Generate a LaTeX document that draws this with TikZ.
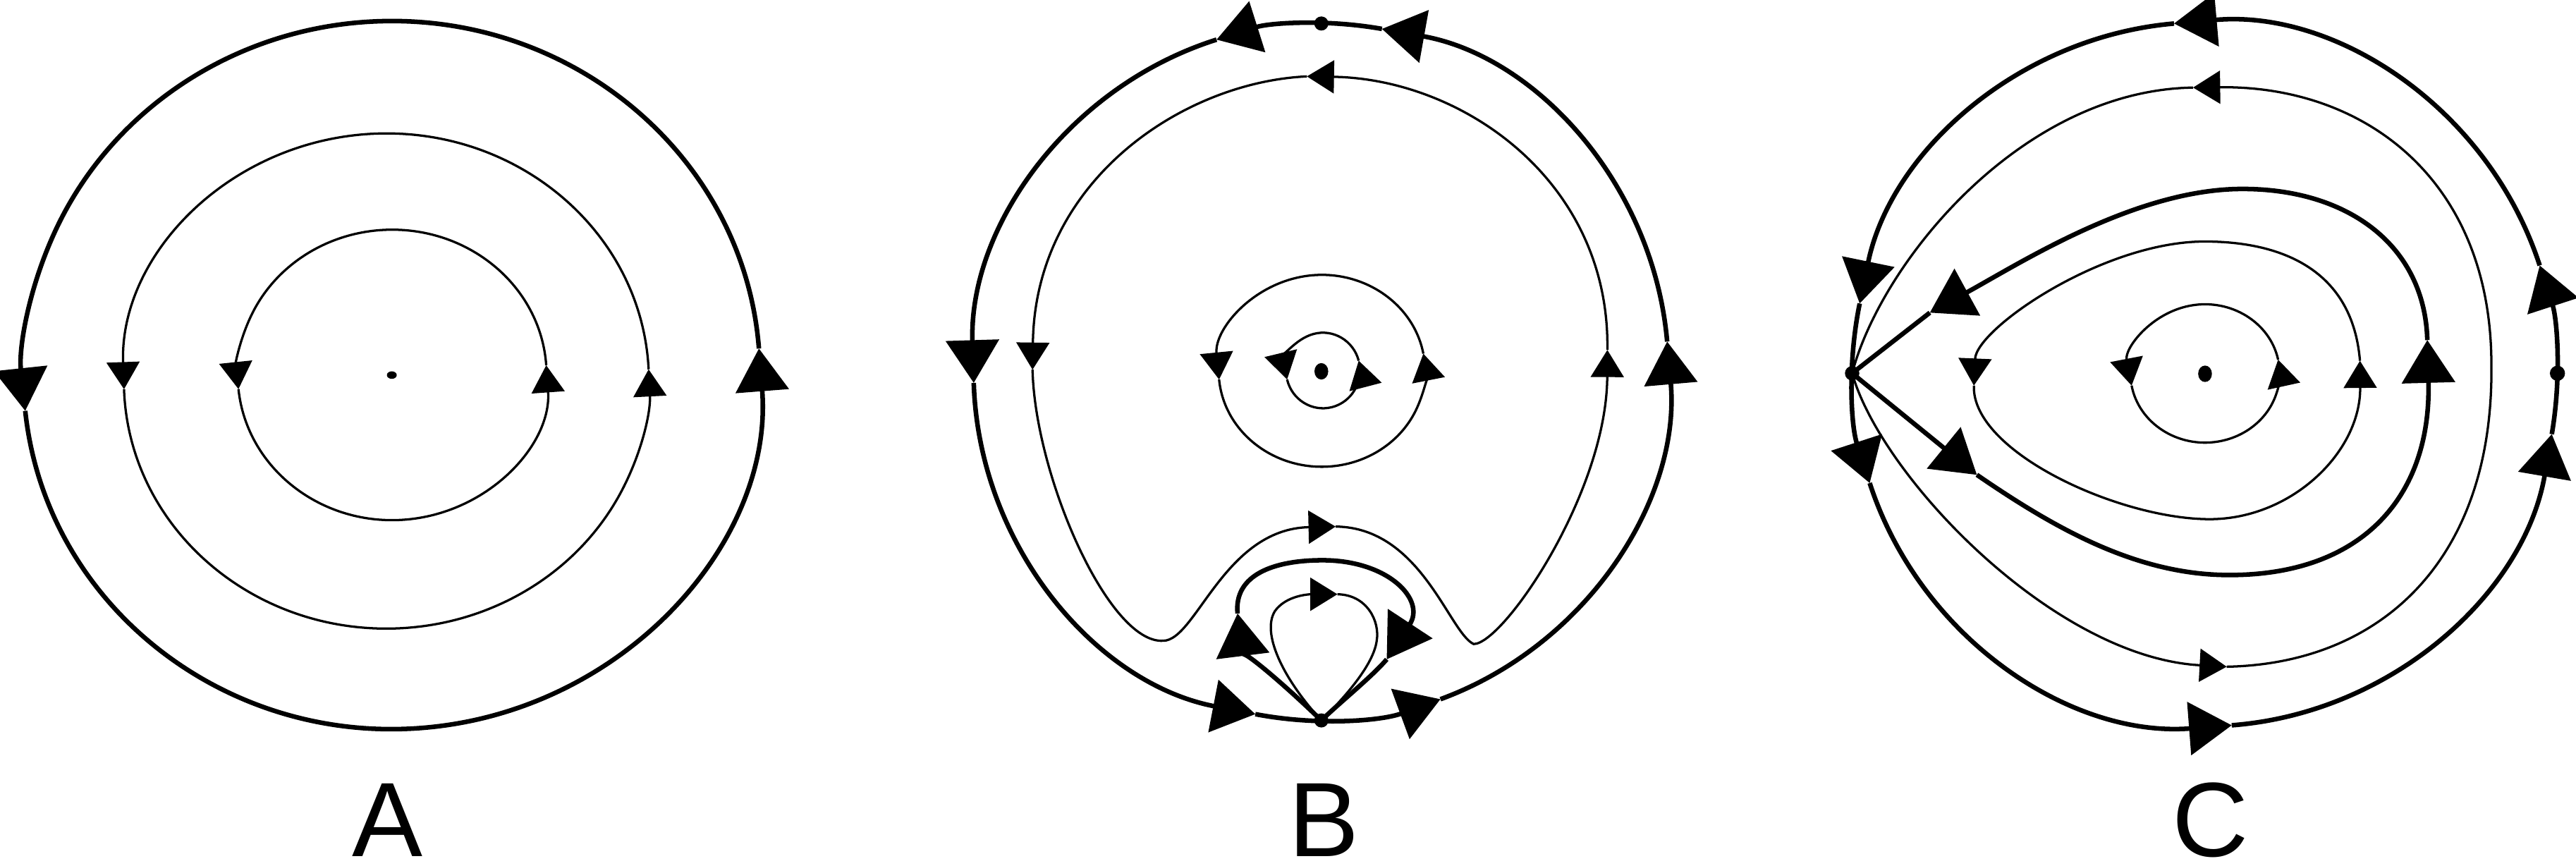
\documentclass[tikz,border=0pt]{standalone}
\usepackage{fontspec}
\setmainfont{Liberation Sans}
\usetikzlibrary{arrows.meta}
\tikzset{
    sepline/.style={line width=0.028cm},
    orbit/.style={line width=0.014cm},
    flowbig/.tip={Triangle[length=0.26cm,width=0.32cm]},
    flowsmall/.tip={Triangle[length=0.165cm,width=0.2cm]},
    panel/.style={font=\fontsize{18.3}{22}\selectfont, inner sep=0pt},
}
% closed orbit round a centre, cut at the arrow tips (angles as seen, counter-clockwise)
\newcommand{\flowring}[5]{%
    \foreach \ta/\tb in {#5}
        \draw[#1] (#2) ++(-\ta:#3 and #4)
            arc[start angle=-\ta, end angle=-\tb, x radius=#3, y radius=#4];
}

\begin{document}
\begin{tikzpicture}[x=0.01cm,y=-0.01cm]
    \useasboundingbox (0,0) rectangle (1568,527);

    % A: centre
    \coordinate (Ac) at (238.5,228.3);
    \fill (Ac) ellipse[x radius=3, y radius=2.3];
    \flowring{orbit,-flowsmall}{238.7,228.2}{94}{88.4}{3.8/185.6, 185.6/363.8}
    \flowring{orbit,-flowsmall}{235.2,231.9}{159.8}{150.7}{2.7/181.9, 181.9/362.7}
    \flowring{sepline,-flowbig}{238.4,228.3}{224.2}{215.5}{4.3/185.8, 185.8/364.3}
    \node[panel] (labA) at (236,499) {A};

    % B: centre and two saddles
    \coordinate (Btop) at (804.3,14.3);
    \coordinate (Bbot) at (804.3,438.5);
    \coordinate (Bc) at (804.3,226);
    \flowring{sepline,-flowbig}{804.1,226.4}{211.5}{212.1}{5/79.9, 79.9/107.5, 107.5/181.8,
        181.8/259.1, 259.1/290.1, 290.1/365}
    \draw[orbit,-flowsmall] (795.5,46.5) .. controls (720,50) and (630,110) .. (628.5,225);
    \draw[orbit,-flowsmall] (628.5,225) .. controls (630,290) and (675,392) .. (708,390)
        .. controls (728,390) and (745,322) .. (813,320.5);
    \draw[orbit,-flowsmall] (813,320.5) .. controls (865,321) and (882,385) .. (897,392)
        .. controls (915,392) and (978,300) .. (978.4,213);
    \draw[orbit,-flowsmall] (978.4,213) .. controls (980,110) and (890,48) .. (795.5,46.5);
    \draw[sepline,-flowbig] (Bbot) .. controls (780,415) and (756,395) .. (753.3,373.4);
    \draw[sepline,-flowbig] (753.3,373.4) .. controls (751,350) and (775,341) .. (805,341)
        .. controls (845,341) and (868,365) .. (844.1,401.3);
    \draw[sepline] (844.1,401.3) .. controls (835,412) and (815,428) .. (Bbot);
    \draw[orbit,-flowsmall] (Bbot) .. controls (780,412) and (768,385) .. (776,372)
        .. controls (783,362) and (798,361.7) .. (814.1,361.7);
    \draw[orbit] (814.1,361.7) .. controls (832,362) and (840,378) .. (838,390)
        .. controls (836,405) and (818,425) .. (Bbot);
    \flowring{orbit,-flowsmall}{804.6,225.7}{62.8}{58.4}{10.3/185.2, 185.2/370.3}
    \flowring{orbit,-flowsmall}{805.3,225.5}{22.5}{23}{15/193.8, 193.8/375}
    \fill (Btop) circle[radius=4.3];
    \fill (Bbot) circle[radius=4.3];
    \fill (Bc) ellipse[x radius=4.2, y radius=5];
    \node[panel] (labB) at (806,499) {B};

    % C: saddle on the left
    \coordinate (Cl) at (1127.4,227.2);
    \coordinate (Cr) at (1556.7,227.2);
    \coordinate (Cc) at (1342.2,227.5);
    \flowring{sepline,-flowbig}{1342,227.8}{214.4}{214.3}{18/95, 95/168.4, 168.4/198,
        198/274.4, 274.4/350.2, 350.2/378}
    \draw[orbit,-flowsmall] (Cl) .. controls (1145,290) and (1250,400) .. (1355.4,405.8);
    \draw[orbit,-flowsmall] (1355.4,405.8) .. controls (1450,404) and (1518,340) .. (1516.5,222)
        .. controls (1516.5,110) and (1440,52) .. (1334.9,53.3);
    \draw[orbit] (1334.9,53.3) .. controls (1230,55) and (1145,160) .. (Cl);
    \draw[sepline,-flowbig] (Cl) -- (1203.3,289);
    \draw[sepline,-flowbig] (1203.3,289) .. controls (1250,321) and (1300,350) .. (1357,350)
        .. controls (1440,350) and (1480,300) .. (1477.5,207);
    \draw[sepline,-flowbig] (1477.5,207) .. controls (1476,150) and (1430,115) .. (1365,115)
        .. controls (1300,115) and (1230,160) .. (1174.7,190.3);
    \draw[sepline] (1174.7,190.3) -- (Cl);
    \draw[orbit,-flowsmall] (1436.5,219.6) .. controls (1432,165) and (1390,147) .. (1342,147)
        .. controls (1280,147) and (1203,200) .. (1201.5,234.7);
    \draw[orbit,-flowsmall] (1201.5,234.7) .. controls (1200,275) and (1290,316) .. (1345,316)
        .. controls (1395,316) and (1437,275) .. (1436.5,219.6);
    \flowring{orbit,-flowsmall}{1342.2,227.3}{45.4}{42.1}{11.5/190.1, 190.1/371.5}
    \fill (Cl) circle[radius=4.4];
    \fill (Cr) circle[radius=4.6];
    \fill (Cc) ellipse[x radius=4.2, y radius=5];
    \node[panel] (labC) at (1345.5,499) {C};

\end{tikzpicture}
\end{document}
